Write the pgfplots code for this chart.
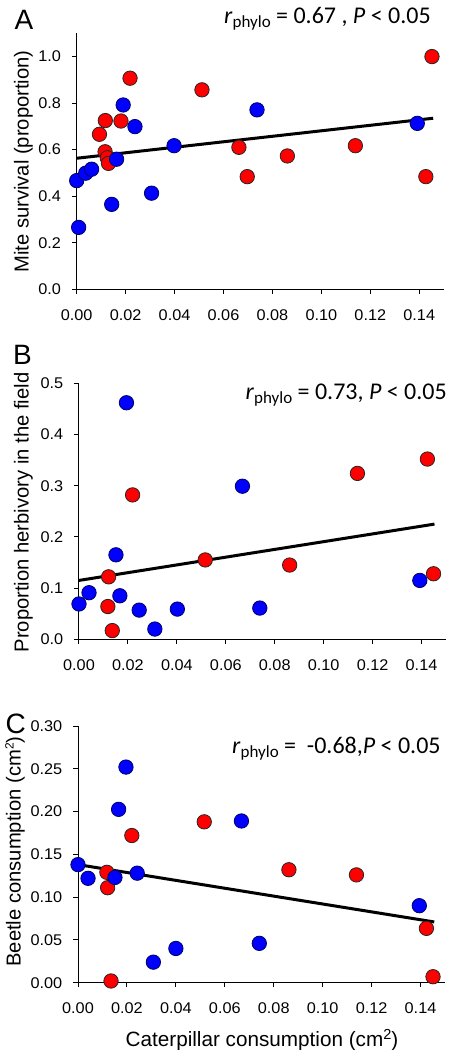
\documentclass[border=0pt]{standalone}
\usepackage{fontspec}
\setmainfont{Liberation Sans}
\newfontfamily\tickfont[FakeStretch=1.05]{Liberation Sans}
\newfontfamily\annfont{Carlito}
\usepackage{pgfplots}
\pgfplotsset{compat=1.18}
\definecolor{dotred}{RGB}{255,0,0}
\definecolor{dotblue}{RGB}{0,0,255}
\definecolor{edgeblue}{RGB}{0,0,100}
\pgfplotsset{
  panel/.style={
    scale only axis, width=367pt, height=256pt,
    axis lines*=left, clip=false,
    axis line style={line width=1pt},
    tick style={line width=1pt, black},
    major tick length=4.5pt, tick align=outside,
    xmin=0, xmax=0.15,
    xtick={0,0.02,...,0.14},
    /pgf/number format/assume math mode=true,
    xticklabel style={/pgf/number format/fixed, /pgf/number format/fixed zerofill, /pgf/number format/precision=2,
      font=\tickfont\fontsize{15.5}{18}\selectfont, anchor=base, inner sep=0pt, yshift=-26.4pt},
    yticklabel style={font=\tickfont\fontsize{15.5}{18}\selectfont, anchor=east, inner sep=0pt, xshift=-11pt},
    anchor=south west,
  },
  reddot/.style={only marks, mark=*, mark size=7.2pt, mark options={fill=dotred, draw=black!85, line width=0.8pt}},
  bluedot/.style={only marks, mark=*, mark size=7.2pt, mark options={fill=dotblue, draw=edgeblue, line width=0.8pt}},
  fitline/.style={no marks, black, line width=3pt},
}
\newcommand{\rphylo}{\textit{r}\raisebox{-4pt}{\fontsize{17}{17}\selectfont phylo}}
\begin{document}
\begin{tikzpicture}[x=1pt,y=1pt]
\path[use as bounding box] (0,0) rectangle (450,1050);
% Panel A
\begin{axis}[panel, at={(76.7pt,760.7pt)},
  ymin=0, ymax=1.1, ytick={0,0.2,...,1.0},
  yticklabel style={/pgf/number format/fixed, /pgf/number format/fixed zerofill, /pgf/number format/precision=1}]
\addplot[fitline] coordinates {(0,0.563) (0.1457,0.735)};
\addplot[reddot] coordinates {
(0.0093,0.666) (0.0117,0.725) (0.0116,0.591) (0.0125,0.565) (0.0130,0.541)
(0.0181,0.723) (0.0218,0.907) (0.0512,0.857) (0.0663,0.610) (0.0697,0.484)
(0.0861,0.573) (0.1139,0.617) (0.1427,0.484) (0.1452,1.000)};
\addplot[bluedot] coordinates {
(0.0000,0.467) (0.0008,0.266) (0.0037,0.499) (0.0061,0.516) (0.0143,0.365)
(0.0163,0.559) (0.0190,0.792) (0.0238,0.699) (0.0306,0.413) (0.0398,0.617)
(0.0737,0.771) (0.1392,0.713)};
\end{axis}
% Panel B
\begin{axis}[panel, at={(79pt,410.7pt)},
  ymin=0, ymax=0.5, ytick={0,0.1,...,0.5},
  yticklabel style={/pgf/number format/fixed, /pgf/number format/fixed zerofill, /pgf/number format/precision=1}]
\addplot[fitline] coordinates {(0,0.115) (0.1453,0.225)};
\addplot[reddot] coordinates {
(0.0121,0.122) (0.0118,0.064) (0.0136,0.017) (0.0219,0.282) (0.0516,0.155)
(0.0861,0.145) (0.1138,0.324) (0.1424,0.352) (0.1449,0.128)};
\addplot[bluedot] coordinates {
(0.0000,0.069) (0.0041,0.091) (0.0151,0.165) (0.0167,0.085) (0.0194,0.462)
(0.0246,0.057) (0.0310,0.020) (0.0402,0.059) (0.0668,0.299) (0.0739,0.061)
(0.1393,0.115)};
\end{axis}
% Panel C
\begin{axis}[panel, at={(78pt,67.3pt)}, height=256.7pt,
  ymin=0, ymax=0.3, ytick={0,0.05,...,0.30},
  yticklabel style={/pgf/number format/fixed, /pgf/number format/fixed zerofill, /pgf/number format/precision=2}]
\addplot[fitline] coordinates {(0,0.138) (0.1456,0.071)};
\addplot[reddot] coordinates {
(0.0118,0.129) (0.0121,0.111) (0.0135,0.002) (0.0220,0.172) (0.0516,0.188)
(0.0862,0.132) (0.1138,0.126) (0.1424,0.0635) (0.1451,0.007)};
\addplot[bluedot] coordinates {
(0.0000,0.138) (0.0041,0.122) (0.0151,0.123) (0.0166,0.2026) (0.0196,0.252)
(0.0242,0.128) (0.0308,0.024) (0.0400,0.040) (0.0668,0.189) (0.0741,0.046)
(0.1395,0.090)};
\end{axis}
% labels
\node[rotate=90, font=\fontsize{20.2}{24}\selectfont] at (23.3,888.5) {Mite survival (proportion)};
\node[rotate=90, font=\fontsize{20.2}{24}\selectfont] at (23.3,537.5) {Proportion herbivory in the field};
\node[rotate=90, font=\fontsize{20.2}{24}\selectfont] at (15,198.4) {Beetle consumption (cm\raisebox{7pt}{\fontsize{12}{12}\selectfont 2})};
\node[anchor=base, inner sep=0pt, font=\fontsize{20.7}{24}\selectfont] at (262,4) {Caterpillar consumption (cm\raisebox{6.7pt}{\fontsize{14.5}{14.5}\selectfont 2})};
\node[anchor=base west, inner sep=0pt, font=\fontsize{28}{32}\selectfont] at (14.5,1020) {A};
\node[anchor=base west, inner sep=0pt, font=\fontsize{28}{32}\selectfont] at (13,685) {B};
\node[anchor=base west, inner sep=0pt, font=\fontsize{28}{32}\selectfont] at (5.3,316.7) {C};
\node[anchor=base west, inner sep=0pt, font=\annfont\fontsize{24}{28}\selectfont] at (224,1026.7) {\rphylo{} = 0.67 , \textit{P} < 0.05};
\node[anchor=base west, inner sep=0pt, font=\annfont\fontsize{24}{28}\selectfont] at (245.5,650) {\rphylo{} = 0.73, \textit{P} < 0.05};
\node[anchor=base west, inner sep=0pt, font=\annfont\fontsize{24}{28}\selectfont] at (232,296.7) {\rphylo{} =\ \ -0.68,\textit{P} < 0.05};
\end{tikzpicture}
\end{document}
